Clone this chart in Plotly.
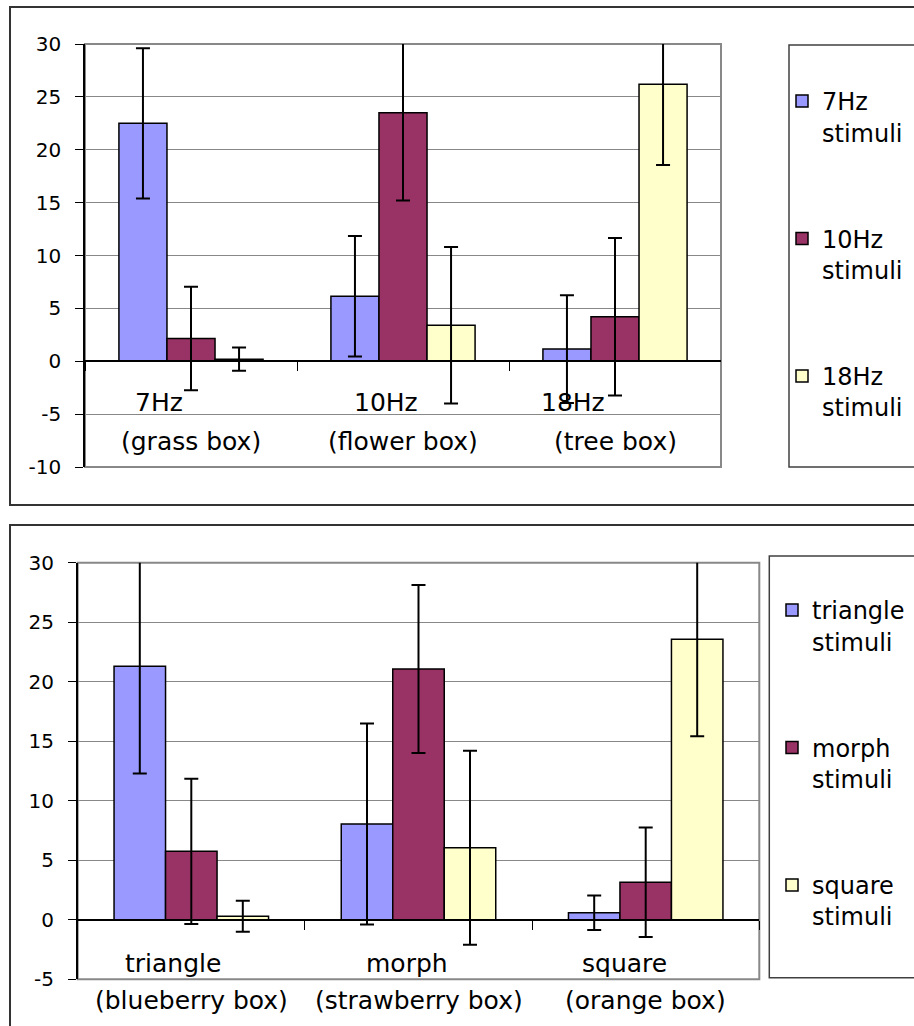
import plotly.graph_objects as go

# ---------------- data ----------------
top_cats = ["7Hz", "10Hz", "18Hz"]
top_cat_sub = ["(grass box)", "(flower box)", "(tree box)"]
top_series = ["7Hz<br>stimuli", "10Hz<br>stimuli", "18Hz<br>stimuli"]
top_7hz = [22.5, 6.15, 1.15]
top_7hz_err = [7.1, 5.7, 5.1]
top_10hz = [2.15, 23.5, 4.2]
top_10hz_err = [4.9, 8.3, 7.45]
top_18hz = [0.2, 3.4, 26.2]
top_18hz_err = [1.1, 7.4, 7.65]
top_ticks = [30, 25, 20, 15, 10, 5, 0, -5, -10]

bot_cats = ["triangle", "morph", "square"]
bot_cat_sub = ["(blueberry box)", "(strawberry box)", "(orange box)"]
bot_series = ["triangle<br>stimuli", "morph<br>stimuli", "square<br>stimuli"]
bot_triangle = [21.3, 8.05, 0.6]
bot_triangle_err = [9.0, 8.45, 1.45]
bot_morph = [5.75, 21.07, 3.15]
bot_morph_err = [6.1, 7.05, 4.6]
bot_square = [0.3, 6.05, 23.56]
bot_square_err = [1.3, 8.15, 8.15]
bot_ticks = [30, 25, 20, 15, 10, 5, 0, -5]

# ---------------- style ----------------
W, H = 914, 1026
FONT = "DejaVu Sans, Arial, sans-serif"
colors = ["#9999FF", "#993366", "#FFFFCC"]
GRID = "#888888"


def px_x(p):
    return p / W


def px_y(p):
    return 1 - p / H


fig = go.Figure()

panels = [
    dict(cats=top_cats, sub=top_cat_sub, names=top_series,
         vals=[top_7hz, top_10hz, top_18hz],
         errs=[top_7hz_err, top_10hz_err, top_18hz_err],
         ticks=top_ticks, xa="x", ya="y", legend="legend",
         xdom=[px_x(85), px_x(721)], ydom=[px_y(467), px_y(44)],
         shifts=[-32, -17, -42], yshift1=-41, yshift2=-80),
    dict(cats=bot_cats, sub=bot_cat_sub, names=bot_series,
         vals=[bot_triangle, bot_morph, bot_square],
         errs=[bot_triangle_err, bot_morph_err, bot_square_err],
         ticks=bot_ticks, xa="x2", ya="y2", legend="legend2",
         xdom=[px_x(77.7), px_x(759.3)], ydom=[px_y(979.3), px_y(562.7)],
         shifts=[-18, -12, -21], yshift1=-44, yshift2=-81),
]

annotations = []
for pi, p in enumerate(panels):
    for si in range(3):
        fig.add_trace(go.Bar(
            x=p["cats"], y=p["vals"][si], name=p["names"][si],
            xaxis=p["xa"], yaxis=p["ya"], legend=p["legend"],
            legendgroup=f"{pi}-{si}",
            marker=dict(color=colors[si], line=dict(color="black", width=1.5)),
            error_y=dict(type="data", array=p["errs"][si], visible=True,
                         color="black", thickness=2, width=7),
        ))
    ymin, ymax = min(p["ticks"]), max(p["ticks"])
    zero_pos = p["ydom"][0] + (0 - ymin) / (ymax - ymin) * (p["ydom"][1] - p["ydom"][0])
    xkey = "xaxis" if p["xa"] == "x" else "xaxis2"
    ykey = "yaxis" if p["ya"] == "y" else "yaxis2"
    fig.update_layout(**{
        xkey: dict(domain=p["xdom"], anchor="free", position=zero_pos,
                   type="category", showgrid=False, showline=True,
                   linecolor="black", linewidth=1.5, ticks="outside",
                   tickson="boundaries", ticklen=9, tickcolor="black",
                   tickwidth=1, showticklabels=False, zeroline=False),
        ykey: dict(domain=p["ydom"], anchor=p["xa"], range=[ymin, ymax],
                   tickvals=p["ticks"], ticktext=[str(t) for t in p["ticks"]],
                   showgrid=True, gridcolor=GRID,
                   gridwidth=1, zeroline=False, showline=True,
                   linecolor="black", linewidth=1.5, ticks="outside",
                   ticklen=8, tickcolor="black", ticklabelstandoff=10,
                   tickfont=dict(family=FONT, size=20, color="black")),
    })
    for ci, c in enumerate(p["cats"]):
        annotations.append(dict(
            x=c, y=0, xref=p["xa"], yref=p["ya"], text=c, showarrow=False,
            xanchor="center", yanchor="middle", xshift=p["shifts"][ci],
            yshift=p["yshift1"], font=dict(family=FONT, size=25, color="black")))
        annotations.append(dict(
            x=c, y=0, xref=p["xa"], yref=p["ya"], text=p["sub"][ci],
            showarrow=False, xanchor="center", yanchor="middle",
            yshift=p["yshift2"], font=dict(family=FONT, size=25, color="black")))

shapes = []
# outer chart frames
shapes.append(dict(type="rect", xref="paper", yref="paper", x0=px_x(10), x1=1.05,
                   y0=px_y(505), y1=px_y(7), line=dict(color="#333333", width=2),
                   layer="below"))
shapes.append(dict(type="rect", xref="paper", yref="paper", x0=px_x(10), x1=1.05,
                   y0=-0.05, y1=px_y(525), line=dict(color="#333333", width=2),
                   layer="below"))
# plot-area borders
for xa, ya in [("x", "y"), ("x2", "y2")]:
    shapes.append(dict(type="rect", xref=f"{xa} domain", yref=f"{ya} domain",
                       x0=0, x1=1, y0=0, y1=1, line=dict(color=GRID, width=2),
                       layer="below"))
# legend frames
shapes.append(dict(type="rect", xref="paper", yref="paper", x0=px_x(789), x1=1.05,
                   y0=px_y(467), y1=px_y(45), line=dict(color="#404040", width=1.5)))
shapes.append(dict(type="rect", xref="paper", yref="paper", x0=px_x(769.3), x1=1.05,
                   y0=px_y(977.7), y1=px_y(556), line=dict(color="#404040", width=1.5)))

legend_common = dict(bgcolor="rgba(0,0,0,0)", borderwidth=0, valign="top",
                     tracegroupgap=72, xanchor="left", yanchor="top",
                     font=dict(family=FONT, size=24, color="black"))

fig.update_layout(
    width=W, height=H,
    margin=dict(l=0, r=0, t=0, b=0, pad=0, autoexpand=False),
    paper_bgcolor="white", plot_bgcolor="white",
    barmode="group", bargap=0.32, bargroupgap=0,
    showlegend=True,
    legend=dict(x=px_x(782), y=px_y(79), **legend_common),
    legend2=dict(x=px_x(772), y=px_y(588), **legend_common),
    annotations=annotations, shapes=shapes,
    font=dict(family=FONT, color="black"),
)

fig.write_html("out.html")
